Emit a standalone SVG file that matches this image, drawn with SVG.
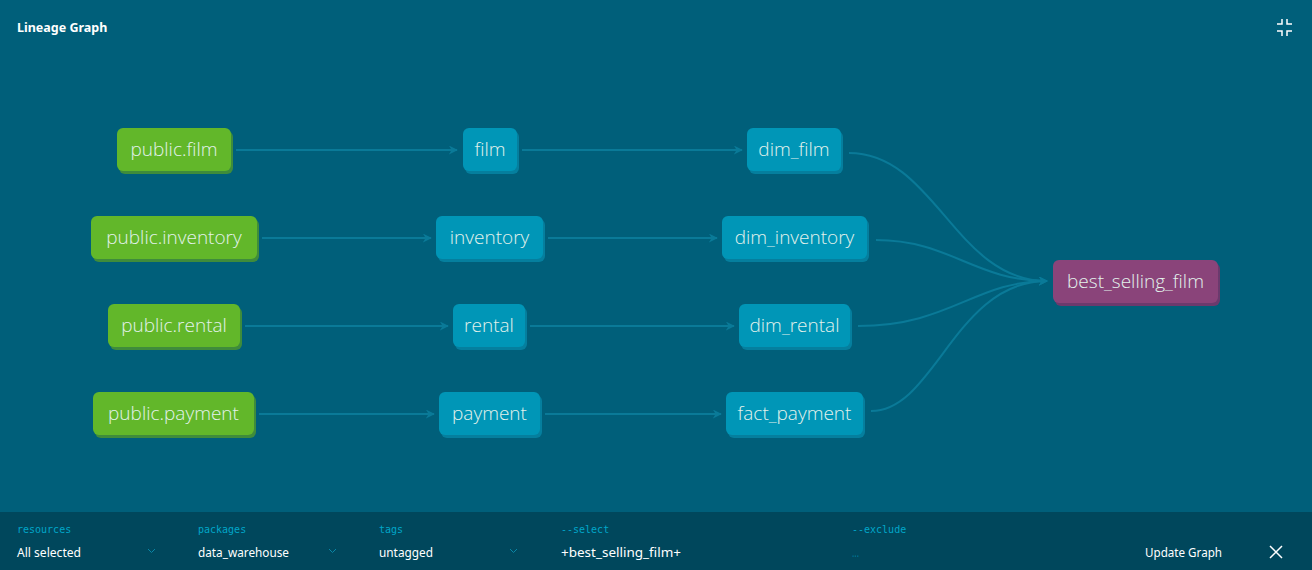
<svg xmlns="http://www.w3.org/2000/svg" width="1312" height="570" viewBox="0 0 1312 570">
<defs>
<marker id="arr" viewBox="0 0 10 10" refX="9" refY="5" markerWidth="9" markerHeight="9" markerUnits="userSpaceOnUse" orient="auto">
<path d="M0,0 L10,5 L0,10 L3,5 z" fill="#0a7a98"/>
</marker>
<style>
.edge{fill:none;stroke:#0a7a98;stroke-width:2}
.lbl{font-family:"Open Sans","Noto Sans",sans-serif;font-weight:300;font-size:19px;fill:#e3f2ec;text-anchor:middle;dominant-baseline:central}
.g{fill:#62b72a}.gs{fill:#3f8c3b}
.b{fill:#0096b7}.bs{fill:#057f9e}
.p{fill:#8a447a}.ps{fill:#6b3a6d}
.cap{font-family:"DejaVu Sans Mono","Liberation Mono",monospace;font-size:10px;fill:#00a6c9}
.val{font-family:"Noto Sans","Liberation Sans",sans-serif;font-size:13px;fill:#ffffff}
.chev{fill:none;stroke:#0a86a6;stroke-width:1}
</style>
</defs>
<rect width="1312" height="570" fill="#005f7a"/>
<text x="17" y="32" font-family="Noto Sans, Liberation Sans, sans-serif" font-size="12.5" font-weight="bold" fill="#ffffff">Lineage Graph</text>
<g id="collapse-icon" fill="none" stroke="#ffffff" stroke-width="1.5">
<path d="M1277,24 H1282 V19"/><path d="M1292,24 H1287 V19"/><path d="M1277,31 H1282 V36"/><path d="M1292,31 H1287 V36"/>
</g>
<g id="connectors">
<path class="edge" marker-end="url(#arr)" d="M236,150 L457,150"/>
<path class="edge" marker-end="url(#arr)" d="M262,238 L431,238"/>
<path class="edge" marker-end="url(#arr)" d="M245,326 L448,326"/>
<path class="edge" marker-end="url(#arr)" d="M259,414 L434,414"/>
<path class="edge" marker-end="url(#arr)" d="M522,150 L742,150"/>
<path class="edge" marker-end="url(#arr)" d="M548,238 L717,238"/>
<path class="edge" marker-end="url(#arr)" d="M530,326 L734,326"/>
<path class="edge" marker-end="url(#arr)" d="M545,414 L721,414"/>
<path class="edge" marker-end="url(#arr)" d="M849,153 C935,153 955,281 1047,281"/>
<path class="edge" marker-end="url(#arr)" d="M876,240 C950,240 975,281 1047,281"/>
<path class="edge" marker-end="url(#arr)" d="M858,326 C950,326 975,281 1047,281"/>
<path class="edge" marker-end="url(#arr)" d="M871,411 C935,411 955,281 1047,281"/>
</g>
<g id="public.film"><rect class="gs" x="119" y="131" width="114" height="43" rx="6"/><rect class="g" x="117" y="128" width="114" height="43" rx="6"/><text class="lbl" x="174" y="149">public.film</text></g>
<g id="public.inventory"><rect class="gs" x="93" y="219" width="166" height="43" rx="6"/><rect class="g" x="91" y="216" width="166" height="43" rx="6"/><text class="lbl" x="174" y="237">public.inventory</text></g>
<g id="public.rental"><rect class="gs" x="110" y="307" width="132" height="43" rx="6"/><rect class="g" x="108" y="304" width="132" height="43" rx="6"/><text class="lbl" x="174" y="325">public.rental</text></g>
<g id="public.payment"><rect class="gs" x="95" y="395" width="161" height="43" rx="6"/><rect class="g" x="93" y="392" width="161" height="43" rx="6"/><text class="lbl" x="173.5" y="413">public.payment</text></g>
<g id="film"><rect class="bs" x="465" y="131" width="54" height="43" rx="6"/><rect class="b" x="463" y="128" width="54" height="43" rx="6"/><text class="lbl" x="490" y="149">film</text></g>
<g id="inventory"><rect class="bs" x="438" y="219" width="107" height="43" rx="6"/><rect class="b" x="436" y="216" width="107" height="43" rx="6"/><text class="lbl" x="489.5" y="237">inventory</text></g>
<g id="rental"><rect class="bs" x="455" y="307" width="72" height="43" rx="6"/><rect class="b" x="453" y="304" width="72" height="43" rx="6"/><text class="lbl" x="489" y="325">rental</text></g>
<g id="payment"><rect class="bs" x="441" y="395" width="101" height="43" rx="6"/><rect class="b" x="439" y="392" width="101" height="43" rx="6"/><text class="lbl" x="489.5" y="413">payment</text></g>
<g id="dim_film"><rect class="bs" x="749" y="131" width="94" height="43" rx="6"/><rect class="b" x="747" y="128" width="94" height="43" rx="6"/><text class="lbl" x="794" y="149">dim_film</text></g>
<g id="dim_inventory"><rect class="bs" x="724" y="219" width="145" height="43" rx="6"/><rect class="b" x="722" y="216" width="145" height="43" rx="6"/><text class="lbl" x="794.5" y="237">dim_inventory</text></g>
<g id="dim_rental"><rect class="bs" x="741" y="307" width="111" height="43" rx="6"/><rect class="b" x="739" y="304" width="111" height="43" rx="6"/><text class="lbl" x="794.5" y="325">dim_rental</text></g>
<g id="fact_payment"><rect class="bs" x="728" y="395" width="137" height="43" rx="6"/><rect class="b" x="726" y="392" width="137" height="43" rx="6"/><text class="lbl" x="794.5" y="413">fact_payment</text></g>
<g id="best_selling_film"><rect class="ps" x="1055" y="263" width="165" height="43" rx="6"/><rect class="p" x="1053" y="260" width="165" height="43" rx="6"/><text class="lbl" x="1135.5" y="281">best_selling_film</text></g>
<g id="toolbar">
<rect x="0" y="512" width="1312" height="58" fill="#00475c"/>
<text class="cap" x="17" y="533">resources</text>
<text class="val" x="17" y="557" textLength="64" lengthAdjust="spacingAndGlyphs">All selected</text>
<path class="chev" d="M148,549 L151.5,552.5 L155,549"/>
<text class="cap" x="198" y="533">packages</text>
<text class="val" x="198" y="557" textLength="91" lengthAdjust="spacingAndGlyphs">data_warehouse</text>
<path class="chev" d="M329,549 L332.5,552.5 L336,549"/>
<text class="cap" x="379" y="533">tags</text>
<text class="val" x="379" y="557" textLength="54" lengthAdjust="spacingAndGlyphs">untagged</text>
<path class="chev" d="M510,549 L513.5,552.5 L517,549"/>
<text class="cap" x="561" y="533">--select</text>
<text class="val" x="561" y="557" textLength="120" lengthAdjust="spacingAndGlyphs">+best_selling_film+</text>
<text class="cap" x="852" y="533">--exclude</text>
<text class="cap" x="852" y="557" textLength="7" lengthAdjust="spacingAndGlyphs">...</text>
<text class="val" x="1145" y="557" textLength="77" lengthAdjust="spacingAndGlyphs">Update Graph</text>
<path d="M1270,546 L1282,558 M1282,546 L1270,558" stroke="#ffffff" stroke-width="1.5" fill="none"/>
</g>
</svg>
